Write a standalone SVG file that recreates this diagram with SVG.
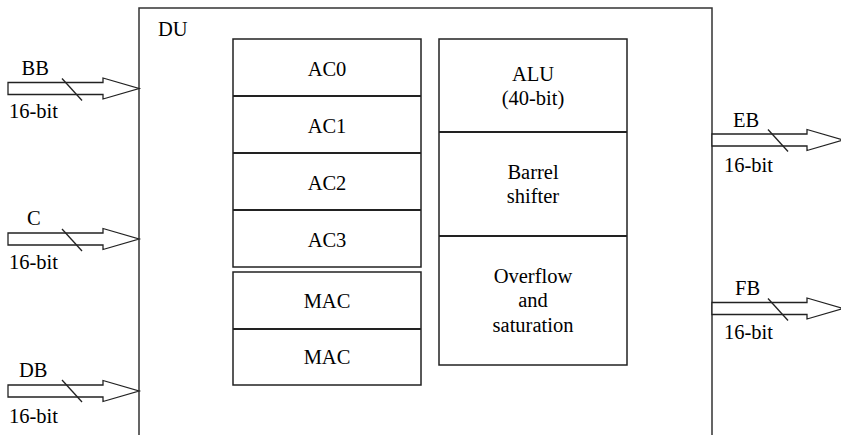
<svg xmlns="http://www.w3.org/2000/svg" width="841" height="435" viewBox="0 0 841 435">
  <defs>
    <!-- wide bus arrow pointing right, origin at its tail centre -->
    <polygon id="busArrow" fill="#fff" stroke="#222" stroke-width="1.3" points="0,-6 95,-6 95,-10.5 131,0 95,10.5 95,6 0,6"/>
    <!-- bus width slash -->
    <line id="busTick" stroke="#222" stroke-width="1.3" x1="-10" y1="-11" x2="10" y2="11"/>
  </defs>

  <rect width="841" height="435" fill="#fff"/>

  <!-- data unit outline -->
  <g id="du">
    <path fill="none" stroke="#333" stroke-width="1.5" d="M139,436 V8 H712 V436"/>
    <text font-family="Liberation Serif, Times New Roman, serif" font-size="20.5" x="158" y="36">DU</text>
  </g>

  <!-- accumulators -->
  <g id="accumulators">
    <rect fill="#fff" stroke="#222" stroke-width="1.5" x="233" y="39" width="188" height="228"/>
    <g stroke="#222" stroke-width="1.8">
      <line x1="233" y1="96" x2="421" y2="96"/>
      <line x1="233" y1="153" x2="421" y2="153"/>
      <line x1="233" y1="210" x2="421" y2="210"/>
    </g>
    <text font-family="Liberation Serif, Times New Roman, serif" font-size="20.5" text-anchor="middle" x="327" y="76">AC0</text>
    <text font-family="Liberation Serif, Times New Roman, serif" font-size="20.5" text-anchor="middle" x="327" y="133">AC1</text>
    <text font-family="Liberation Serif, Times New Roman, serif" font-size="20.5" text-anchor="middle" x="327" y="190">AC2</text>
    <text font-family="Liberation Serif, Times New Roman, serif" font-size="20.5" text-anchor="middle" x="327" y="247">AC3</text>
  </g>

  <!-- multiply-accumulate units -->
  <g id="mac">
    <rect fill="#fff" stroke="#222" stroke-width="1.5" x="233" y="272" width="188" height="113"/>
    <line stroke="#222" stroke-width="1.8" x1="233" y1="329" x2="421" y2="329"/>
    <text font-family="Liberation Serif, Times New Roman, serif" font-size="20.5" text-anchor="middle" x="327" y="308">MAC</text>
    <text font-family="Liberation Serif, Times New Roman, serif" font-size="20.5" text-anchor="middle" x="327" y="364">MAC</text>
  </g>

  <!-- ALU, shifter and saturation logic -->
  <g id="alu">
    <rect fill="#fff" stroke="#222" stroke-width="1.5" x="439" y="39" width="188" height="326"/>
    <g stroke="#222" stroke-width="1.8">
      <line x1="439" y1="132" x2="627" y2="132"/>
      <line x1="439" y1="236" x2="627" y2="236"/>
    </g>
    <text font-family="Liberation Serif, Times New Roman, serif" font-size="20.5" text-anchor="middle" x="533" y="81">ALU</text>
    <text font-family="Liberation Serif, Times New Roman, serif" font-size="20.5" text-anchor="middle" x="533" y="105">(40-bit)</text>
    <text font-family="Liberation Serif, Times New Roman, serif" font-size="20.5" text-anchor="middle" x="533" y="179">Barrel</text>
    <text font-family="Liberation Serif, Times New Roman, serif" font-size="20.5" text-anchor="middle" x="533" y="203">shifter</text>
    <text font-family="Liberation Serif, Times New Roman, serif" font-size="20.5" text-anchor="middle" x="533" y="283">Overflow</text>
    <text font-family="Liberation Serif, Times New Roman, serif" font-size="20.5" text-anchor="middle" x="533" y="307">and</text>
    <text font-family="Liberation Serif, Times New Roman, serif" font-size="20.5" text-anchor="middle" x="533" y="332">saturation</text>
  </g>

  <!-- buses in and out -->
  <g id="connectors">
    <g id="bus-bb">
      <use href="#busArrow" x="8" y="88.5"/>
      <use href="#busTick" x="72" y="89.5"/>
      <text font-family="Liberation Serif, Times New Roman, serif" font-size="20.5" x="21.5" y="75">BB</text>
      <text font-family="Liberation Serif, Times New Roman, serif" font-size="20.5" x="9" y="118">16-bit</text>
    </g>
    <g id="bus-c">
      <use href="#busArrow" x="8" y="239"/>
      <use href="#busTick" x="72" y="240"/>
      <text font-family="Liberation Serif, Times New Roman, serif" font-size="20.5" x="27" y="225">C</text>
      <text font-family="Liberation Serif, Times New Roman, serif" font-size="20.5" x="9" y="269">16-bit</text>
    </g>
    <g id="bus-db">
      <use href="#busArrow" x="8" y="391"/>
      <use href="#busTick" x="72" y="391"/>
      <text font-family="Liberation Serif, Times New Roman, serif" font-size="20.5" x="19" y="377">DB</text>
      <text font-family="Liberation Serif, Times New Roman, serif" font-size="20.5" x="9" y="423">16-bit</text>
    </g>
    <g id="bus-eb">
      <use href="#busArrow" x="712" y="140"/>
      <use href="#busTick" x="778" y="140.5"/>
      <text font-family="Liberation Serif, Times New Roman, serif" font-size="20.5" x="733" y="127">EB</text>
      <text font-family="Liberation Serif, Times New Roman, serif" font-size="20.5" x="724" y="172">16-bit</text>
    </g>
    <g id="bus-fb">
      <use href="#busArrow" x="712" y="308.5"/>
      <use href="#busTick" x="778" y="309.5"/>
      <text font-family="Liberation Serif, Times New Roman, serif" font-size="20.5" x="735" y="295">FB</text>
      <text font-family="Liberation Serif, Times New Roman, serif" font-size="20.5" x="724" y="339">16-bit</text>
    </g>
  </g>
</svg>
